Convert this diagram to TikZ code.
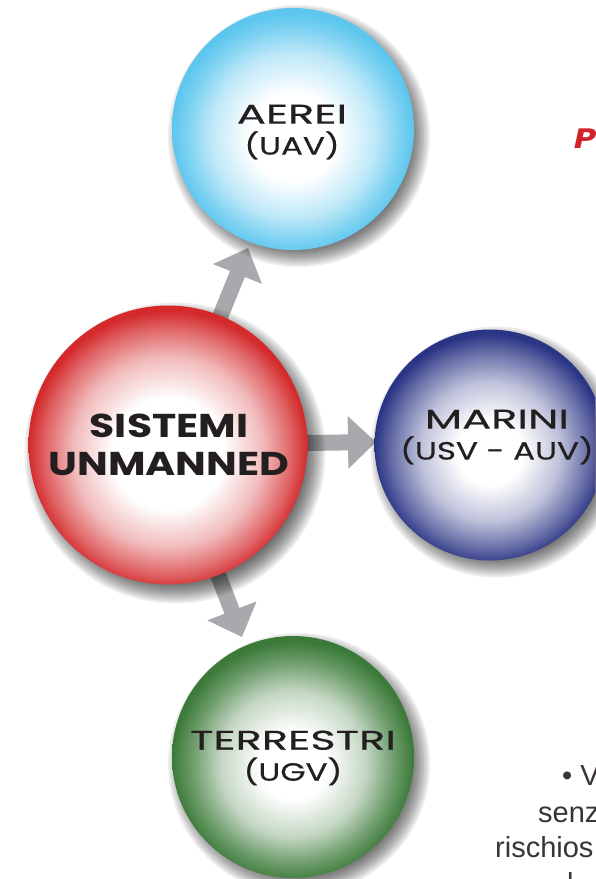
\documentclass[tikz,border=0pt]{standalone}
\usepackage{fontspec}
\setmainfont{Liberation Sans}
\newfontfamily\widefont[FakeStretch=1.6,FakeBold=0.6]{Poppins}
\newfontfamily\narrowfont[FakeStretch=1.3,FakeBold=0.6]{Poppins}
\newfontfamily\widebold[FakeStretch=1.24]{Poppins}
\usetikzlibrary{arrows.meta,calc}
\pgfdeclarelayer{background}
\pgfdeclarelayer{shadowlayer}
\pgfsetlayers{background,shadowlayer,main}
\definecolor{arrowgray}{HTML}{A7A9AC}
\definecolor{ink}{HTML}{231F20}
\definecolor{redA}{HTML}{D42A2C}
\definecolor{blueA}{HTML}{5CC6EE}
\definecolor{navyA}{HTML}{2B3585}
\definecolor{greenA}{HTML}{3B7A38}
\definecolor{titlered}{HTML}{D2232A}
\pgfdeclareradialshading{redball}{\pgfpoint{0bp}{-2bp}}{color(0bp)=(white); color(10bp)=(white); color(17bp)=(redA!32!white); color(22bp)=(redA!72!white); color(25bp)=(redA); color(50bp)=(redA)}
\pgfdeclareradialshading{blueball}{\pgfpoint{0bp}{-2bp}}{color(0bp)=(white); color(9bp)=(white); color(17bp)=(blueA!40!white); color(22bp)=(blueA!80!white); color(25bp)=(blueA); color(50bp)=(blueA)}
\pgfdeclareradialshading{navyball}{\pgfpoint{0bp}{-2bp}}{color(0bp)=(white); color(7bp)=(white); color(15bp)=(navyA!30!white); color(21bp)=(navyA!70!white); color(25bp)=(navyA); color(50bp)=(navyA)}
\pgfdeclareradialshading{greenball}{\pgfpoint{0bp}{-2bp}}{color(0bp)=(white); color(7bp)=(white); color(15bp)=(greenA!30!white); color(21bp)=(greenA!75!white); color(25bp)=(greenA); color(50bp)=(greenA)}
\newcommand{\firstline}[1]{{\widefont\fontsize{27}{31}\selectfont #1}}
\newcommand{\secondline}[1]{{\narrowfont\fontsize{25}{31}\selectfont #1}}
\tikzset{
  ball/.style={circle, inner sep=0pt, draw=none},
  shadowring/.style={fill=black, fill opacity=0.07},
  fatarrow/.style={draw=arrowgray, line width=16pt, -{Triangle[width=51pt,length=28pt]}},
  boldlbl/.style={align=center, text=ink, font=\widebold\bfseries\fontsize{33}{38}\selectfont},
  lbl/.style={align=center, text=ink, font=\fontsize{27}{31}\selectfont},
  bodytxt/.style={anchor=base west, inner sep=0pt, text=ink!90, font=\fontsize{29}{35}\selectfont}
}
\begin{document}
\begin{tikzpicture}[x=1pt,y=-1pt]
\useasboundingbox (0,0) rectangle (595,879);
\begin{pgfonlayer}{background}
\fill[white] (0,0) rectangle (595,879);
\end{pgfonlayer}
\begin{scope}
\clip (0,0) rectangle (595,879);
% circles
\node[ball, minimum size=279pt, shading=redball] (sist) at (168,445) {};
\node[ball, minimum size=242pt, shading=blueball] (aer) at (293,129) {};
\node[ball, minimum size=231pt, shading=navyball] (mar) at (490,445) {};
\node[ball, minimum size=242pt, shading=greenball] (ter) at (293,757) {};
% labels
\node[boldlbl] (sistt) at (169,445) {SISTEMI\\UNMANNED};
\node[lbl] (aert) at (292,132) {\firstline{AEREI}\\\secondline{(UAV)}};
\node[lbl] (mart) at (497,437) {\firstline{MARINI}\\\secondline{(USV - AUV)}};
\node[lbl] (tert) at (293,758) {\firstline{TERRESTRI}\\\secondline{(UGV)}};
% cropped texts on the right
\node[anchor=base west, inner sep=0pt, text=titlered, font=\widebold\bfseries\itshape\fontsize{28}{30}\selectfont] (ptxt) at (574,148) {P};
\node[bodytxt] (l1) at (562,785) {• V};
\node[bodytxt] (l2) at (538,822) {senz};
\node[bodytxt] (l3) at (495,857) {rischios};
\node[bodytxt] (l4) at (567,893) {l};
\end{scope}
% soft drop shadows
\begin{pgfonlayer}{shadowlayer}
\foreach \k in {0,...,11}{
  \fill[shadowring] ($(sist.center)+(7,8)$) circle[radius={(139.5+11-2*\k)*1pt}];
  \fill[shadowring] ($(aer.center)+(6,7)$) circle[radius={(121+10-2*\k)*1pt}];
  \fill[shadowring] ($(mar.center)+(6,7)$) circle[radius={(115.5+10-2*\k)*1pt}];
  \fill[shadowring] ($(ter.center)+(6,7)$) circle[radius={(121+10-2*\k)*1pt}];
}
\end{pgfonlayer}
% arrows behind the circles and their shadows
\begin{pgfonlayer}{background}
\coordinate (tipA) at (248,248);
\coordinate (tipM) at (376,442);
\coordinate (tipT) at (242,637);
\draw[fatarrow] (sist.center) -- (tipA);
\draw[fatarrow] (sist.center) -- (tipM);
\draw[fatarrow] (sist.center) -- (tipT);
\end{pgfonlayer}
\end{tikzpicture}
\end{document}
